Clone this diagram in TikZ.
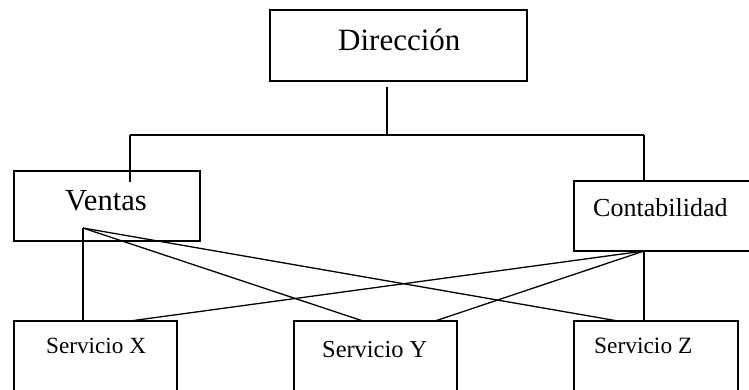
\documentclass[tikz,border=0pt]{standalone}
\usepackage{fontspec}
\setmainfont{Liberation Serif}
\begin{document}
\begin{tikzpicture}[x=1pt,y=-1pt,
  box/.style={draw,line width=1.4pt},
  lbl/.style={inner sep=0pt,anchor=base west},
  wire/.style={line width=1.3pt}]
\useasboundingbox (0,0) rectangle (749,390);
\clip (0,0) rectangle (749,390);
% boxes
\draw[box] (270,10) rectangle (527,81);
\draw[box] (14,171) rectangle (200,241);
\draw[box] (574,181) rectangle (760,251);
\draw[box] (14,321) rectangle (177,400);
\draw[box] (294,321) rectangle (457,400);
\draw[box] (574,321) rectangle (738,400);
% labels
\node[lbl,font=\fontsize{31}{31}\selectfont] (tdir) at (338,51) {Dirección};
\node[lbl,font=\fontsize{30.6}{31}\selectfont] (tven) at (65,211) {Ventas};
\node[lbl,font=\fontsize{26}{26}\selectfont] (tcon) at (593,216) {Contabilidad};
\node[lbl,font=\fontsize{23.2}{24}\selectfont] (tx) at (46,353) {Servicio X};
\node[lbl,font=\fontsize{24.4}{25}\selectfont] (ty) at (322,357) {Servicio Y};
\node[lbl,font=\fontsize{23.4}{24}\selectfont] (tz) at (594,353) {Servicio Z};
% coordinates
\coordinate (dstem) at (387,87);
\coordinate (bus) at (387,135);
\coordinate (busL) at (130,135);
\coordinate (busR) at (644,135);
\coordinate (vtop) at (130,182);
\coordinate (ctop) at (644,181);
\coordinate (vhub) at (83,228);
\coordinate (chub) at (644,251);
\coordinate (x1) at (83,321);
\coordinate (x2) at (130,321);
\coordinate (y1) at (363,321);
\coordinate (y2) at (435,321);
\coordinate (z1) at (618,321);
\coordinate (z2) at (644,321);
% connectors
\draw[wire] (dstem) -- (bus);
\draw[wire] (busL) -- (busR);
\draw[wire] (busL) -- (vtop);
\draw[wire] (busR) -- (ctop);
\draw[wire] (vhub) -- (x1);
\draw[wire] (vhub) -- (y1);
\draw[wire] (vhub) -- (z1);
\draw[wire] (chub) -- (x2);
\draw[wire] (chub) -- (y2);
\draw[wire] (chub) -- (z2);
\end{tikzpicture}
\end{document}
